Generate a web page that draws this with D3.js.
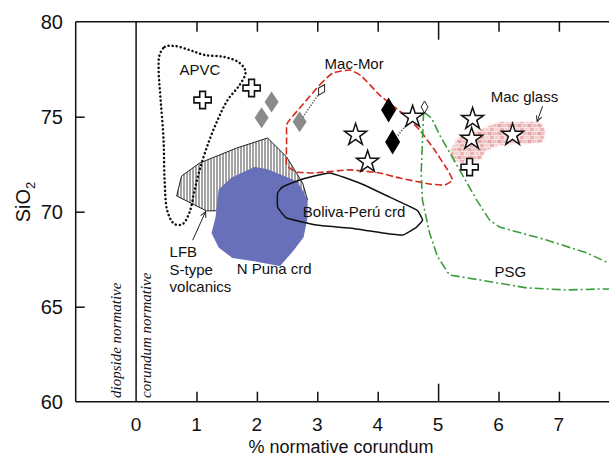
<!DOCTYPE html>
<html><head><meta charset="utf-8">
<script src="https://cdn.jsdelivr.net/npm/d3@7"></script>
<style>body{margin:0;background:#fff}svg{display:block}text{font-family:"Liberation Sans",Arial,sans-serif;fill:#111}</style>
</head><body><svg id="c" width="609" height="457"></svg>
<script>
// ---------- data (x = % normative corundum, y = SiO2 wt%) ----------
const xTicks = [0,1,2,3,4,5,6,7];
const yTicks = [60,65,70,75,80];
const xMajor = [0,5];

const apvcField = [[0.389,78.25],[0.472,78.67],[0.637,78.72],[0.886,78.51],[1.134,78.25],[1.465,78.14],[1.714,77.83],[1.813,77.35],[1.714,76.67],[1.515,75.88],[1.349,74.82],[1.184,73.51],[1.051,72.19],[0.969,71.14],[0.886,69.98],[0.770,69.35],[0.637,69.35],[0.522,69.98],[0.472,71.67],[0.455,73.77],[0.406,75.88],[0.373,77.46]];
const lfbField = [[0.671,70.83],[0.753,71.88],[1.051,72.56],[1.664,73.35],[2.177,73.88],[2.492,72.88],[2.757,71.51],[2.839,70.62],[2.541,70.19],[1.879,70.09],[1.167,70.04]];
const nPunaField = [[1.382,71.14],[1.598,71.77],[1.962,72.30],[2.161,72.20],[2.657,71.56],[2.823,70.62],[2.823,69.72],[2.757,68.67],[2.591,67.98],[2.376,67.19],[1.929,67.46],[1.598,67.62],[1.382,68.14],[1.267,68.88],[1.333,69.72]];
const macMorField = [[2.541,74.83],[3.038,76.67],[3.253,77.30],[3.535,77.46],[3.733,77.14],[4.031,76.14],[4.445,75.09],[4.694,74.30],[4.942,73.25],[5.157,72.20],[5.240,71.67],[5.108,71.40],[4.859,71.46],[4.363,71.77],[4.031,72.04],[3.535,72.20],[2.955,72.04],[2.657,72.09],[2.492,72.46],[2.492,73.77],[2.492,74.56]];
const boliviaField = [[2.343,70.98],[2.425,71.30],[2.707,71.67],[3.204,72.04],[3.700,71.51],[4.197,70.77],[4.644,70.09],[4.743,69.56],[4.644,69.19],[4.412,68.77],[4.081,68.88],[3.535,69.14],[2.988,69.30],[2.492,69.67],[2.343,70.25]];
const psgField = [[4.760,75.25],[4.720,72.04],[4.740,70.62],[4.859,68.88],[4.992,67.62],[5.190,66.67],[5.687,66.41],[6.465,65.99],[7.128,65.88],[7.674,65.93],[8.40,65.95],[8.40,66.90],[7.823,67.30],[7.459,67.83],[6.796,68.51],[6.018,69.19],[5.853,69.56],[5.637,70.62],[5.356,72.20],[5.025,74.04],[4.892,74.93]];
const macGlassField = [[5.207,73.25],[5.323,73.88],[5.687,74.30],[6.018,74.72],[6.680,74.72],[6.780,74.30],[6.730,73.67],[6.018,73.51],[5.803,73.25],[5.687,72.72],[5.439,72.56],[5.224,72.72]];

const crossPts = [[1.101,75.88],[1.912,76.51],[5.522,72.35]];
const greyDiamonds = [[2.243,75.77],[2.078,74.94],[2.707,74.73]];
const blackDiamonds = [[4.180,75.35],[4.247,73.67]];
const smallDiamonds = [[3.071,76.41],[4.776,75.51]];
const starPts = [[3.634,74.04],[3.833,72.62],[4.578,74.99],[5.571,74.88],[5.555,73.83],[6.233,74.04]];
const tieLines = [[[2.707,74.73],[3.071,76.41]],[[4.247,73.67],[4.578,74.99]]];

const labels = [
  {t:"APVC", x:0.72, y:77.2},
  {t:"Mac-Mor", x:3.12, y:77.5},
  {t:"Mac glass", x:5.87, y:75.8},
  {t:"Boliva-Perú crd", x:2.76, y:69.7},
  {t:"N Puna crd", x:1.665, y:66.7},
  {t:"PSG", x:5.935, y:66.55},
  {t:"LFB", x:0.555, y:67.6},
  {t:"S-type", x:0.555, y:66.65},
  {t:"volcanics", x:0.555, y:65.8}
];
const arrows = [ {from:[0.937,68.5], to:[1.15,70.0]}, {from:[6.73,75.55], to:[6.64,74.75]} ];

// ---------- chart ----------
const svg = d3.select("#c");
const x = d3.scaleLinear().domain([-1,8]).range([75.7,619.3]);
const y = d3.scaleLinear().domain([60,80]).range([401.7,21.7]);
const defs = svg.append("defs");
defs.append("clipPath").attr("id","clip").append("rect")
  .attr("x",x(-1)).attr("y",y(80)).attr("width",x(8)-x(-1)).attr("height",y(60)-y(80));

const hp = defs.append("pattern").attr("id","hatch").attr("patternUnits","userSpaceOnUse").attr("width",3).attr("height",6);
hp.append("rect").attr("width",3).attr("height",6).attr("fill","#fff");
hp.append("line").attr("x1",1).attr("x2",1).attr("y1",0).attr("y2",6).attr("stroke","#333").attr("stroke-width",0.9);
const bp = defs.append("pattern").attr("id","brick").attr("patternUnits","userSpaceOnUse").attr("width",10).attr("height",8);
[[0,0,4,3,"#eaa9a9"],[5,0,4,3,"#f4cccc"],[2.5,4,4,3,"#efb8b8"],[7.5,4,4,3,"#e29a9a"],[-2.5,4,4,3,"#e29a9a"]].forEach(r=>
  bp.append("rect").attr("x",r[0]).attr("y",r[1]).attr("width",r[2]).attr("height",r[3]).attr("fill",r[4]));
defs.append("filter").attr("id","soft").append("feGaussianBlur").attr("stdDeviation",1.2);
const mk = defs.append("marker").attr("id","arr").attr("viewBox","0 0 10 10").attr("refX",9).attr("refY",5)
  .attr("markerWidth",7).attr("markerHeight",7).attr("orient","auto");
mk.append("path").attr("d","M1,1 L9,5 L1,9").attr("fill","none").attr("stroke","#222").attr("stroke-width",1.4);

const plot = svg.append("g").attr("clip-path","url(#clip)");
const lineC = d3.line().x(d=>x(d[0])).y(d=>y(d[1])).curve(d3.curveCatmullRomClosed.alpha(0.5));
const lineK = d3.line().x(d=>x(d[0])).y(d=>y(d[1])).curve(d3.curveCardinalClosed.tension(0.65));
const lineL = d3.line().x(d=>x(d[0])).y(d=>y(d[1])).curve(d3.curveLinearClosed);

plot.append("path").attr("d",lineL(macGlassField)).attr("fill","url(#brick)").attr("opacity",0.75).attr("filter","url(#soft)");
plot.append("path").attr("d",lineL(macGlassField)).attr("fill","url(#brick)").attr("opacity",0.75);
plot.append("path").attr("d",lineL(lfbField)).attr("fill","url(#hatch)").attr("stroke","#222").attr("stroke-width",1);
plot.append("path").attr("d",lineC(apvcField)).attr("fill","none").attr("stroke","#111").attr("stroke-width",2.5)
  .attr("stroke-dasharray","0.1 4").attr("stroke-linecap","round");
plot.append("path").attr("d",lineL(nPunaField)).attr("fill","#6870b9").attr("stroke","#6870b9").attr("stroke-width",2).attr("stroke-linejoin","round");
plot.append("path").attr("d",lineK(boliviaField)).attr("fill","none").attr("stroke","#111").attr("stroke-width",1.5);
plot.append("path").attr("d",lineK(macMorField)).attr("fill","none").attr("stroke","#d42a20").attr("stroke-width",1.6).attr("stroke-dasharray","7 3");
plot.append("path").attr("d",lineL(psgField)).attr("fill","none").attr("stroke","#3c9c3c").attr("stroke-width",1.6).attr("stroke-dasharray","9 3 2 3");

tieLines.forEach(t=>plot.append("line").attr("x1",x(t[0][0])).attr("y1",y(t[0][1])).attr("x2",x(t[1][0])).attr("y2",y(t[1][1]))
  .attr("stroke","#555").attr("stroke-width",1.6).attr("stroke-dasharray","1.2 1.6"));

const diamond = (w,h)=>`M0,${-h/2}L${w/2},0L0,${h/2}L${-w/2},0Z`;
plot.selectAll(".gd").data(greyDiamonds).join("path").attr("d",diamond(14,21)).attr("fill","#8a8a8a")
  .attr("transform",d=>`translate(${x(d[0])},${y(d[1])})`);
plot.selectAll(".bd").data(blackDiamonds).join("path").attr("d",diamond(15,25)).attr("fill","#000")
  .attr("transform",d=>`translate(${x(d[0])},${y(d[1])})`);
plot.selectAll(".sd").data(smallDiamonds).join("path").attr("d",diamond(7,12)).attr("fill","#fff").attr("stroke","#222").attr("stroke-width",1)
  .attr("transform",(d,i)=>`translate(${x(d[0])},${y(d[1])}) rotate(${i===0?30:0})`);
plot.selectAll(".cr").data(crossPts).join("path").attr("d",d3.symbol(d3.symbolCross,165)()).attr("fill","#fff").attr("stroke","#111").attr("stroke-width",1.6)
  .attr("transform",d=>`translate(${x(d[0])},${y(d[1])})`);
plot.selectAll(".st").data(starPts).join("path").attr("d",d3.symbol(d3.symbolStar,150)()).attr("fill","#fff").attr("stroke","#111").attr("stroke-width",1.5)
  .attr("stroke-linejoin","miter").attr("transform",d=>`translate(${x(d[0])},${y(d[1])})`);

arrows.forEach(a=>svg.append("line").attr("x1",x(a.from[0])).attr("y1",y(a.from[1])).attr("x2",x(a.to[0])).attr("y2",y(a.to[1]))
  .attr("stroke","#222").attr("stroke-width",1).attr("marker-end","url(#arr)"));

svg.selectAll(".lb").data(labels).join("text").attr("x",d=>x(d.x)).attr("y",d=>y(d.y)).attr("font-size",15).text(d=>d.t);

const ax = svg.append("g").attr("stroke","#111").attr("stroke-width",1.5).attr("fill","none");
ax.append("line").attr("x1",x(-1)).attr("x2",x(-1)).attr("y1",y(80)).attr("y2",y(60));
ax.append("line").attr("x1",x(-1)).attr("x2",x(8)).attr("y1",y(60)).attr("y2",y(60));
ax.append("line").attr("x1",x(-1)).attr("x2",x(8)).attr("y1",y(80)).attr("y2",y(80));
ax.append("line").attr("x1",x(0)).attr("x2",x(0)).attr("y1",y(80)).attr("y2",y(60));

const xb = svg.append("g").attr("transform",`translate(0,${y(60)})`)
  .call(d3.axisBottom(x).tickValues(xTicks.filter(v=>v!==0)).tickSize(-10).tickFormat(""));
const xt = svg.append("g").attr("transform",`translate(0,${y(80)})`)
  .call(d3.axisTop(x).tickValues(xTicks.filter(v=>v!==0)).tickSize(-10).tickFormat(""));
[xb,xt].forEach(g=>{g.select(".domain").remove(); g.selectAll(".tick line").attr("stroke","#111").attr("stroke-width",1.5)
  .filter(d=>xMajor.includes(d)).attr("y2",function(){return +d3.select(this).attr("y2")*1.8;});});
xTicks.forEach(v=>svg.append("text").attr("x",x(v)).attr("y",430.5).attr("text-anchor","middle").attr("font-size",19).text(v));

const ya = svg.append("g").attr("transform",`translate(${x(-1)},0)`)
  .call(d3.axisLeft(y).tickValues(yTicks.filter(v=>v>60&&v<80)).tickSize(-9).tickFormat(""));
ya.select(".domain").remove(); ya.selectAll(".tick line").attr("stroke","#111").attr("stroke-width",1.5);
yTicks.forEach(v=>svg.append("text").attr("x",63).attr("y",y(v)+7).attr("text-anchor","end").attr("font-size",20).text(v));

svg.append("text").attr("x",341).attr("y",453).attr("text-anchor","middle").attr("font-size",18).text("% normative corundum");
const yl = svg.append("text").attr("transform","translate(30,202) rotate(-90)").attr("text-anchor","middle").attr("font-size",20);
yl.append("tspan").text("SiO");
yl.append("tspan").attr("font-size",13).attr("dy",5).text("2");

[["diopside normative",120.5],["corundum normative",150.5]].forEach(l=>
  svg.append("text").attr("transform",`translate(${l[1]},398) rotate(-90)`)
    .attr("font-style","italic").attr("font-size",15).style("font-family","'Liberation Serif',serif").text(l[0]));
</script></body></html>
